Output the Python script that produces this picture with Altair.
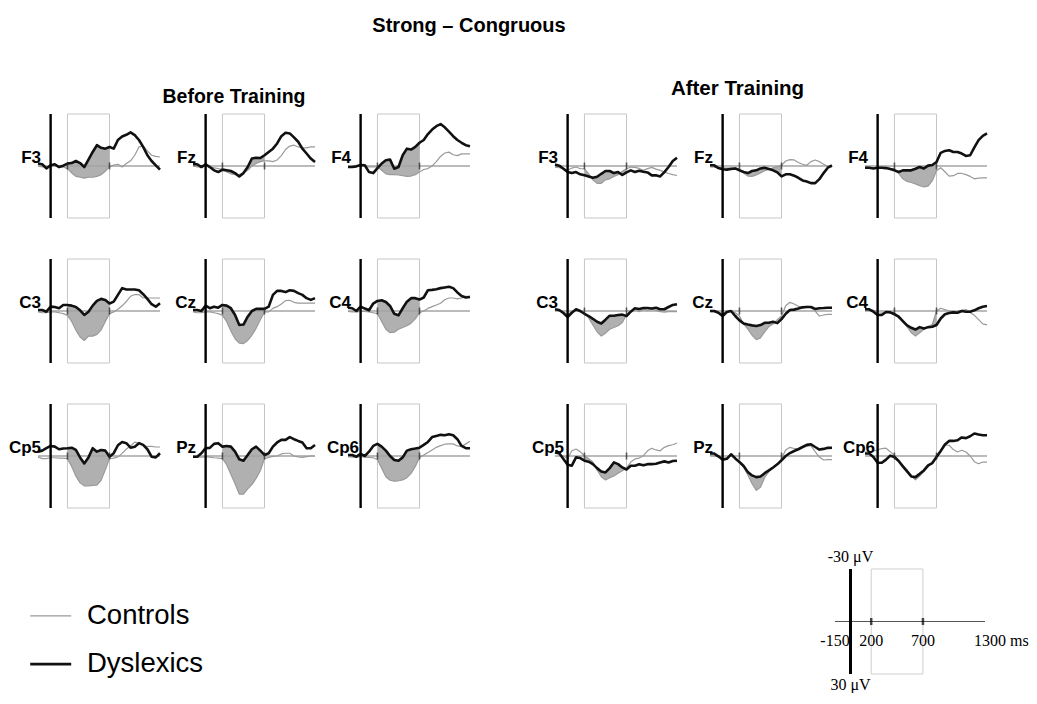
import altair as alt
import pandas as pd

# ---------------- data ----------------
T = list(range(-150, 1301, 50))          # ms
WINDOW = [200, 700]                       # analysis window, ms
XLIM = [-150, 1300]
YLIM = [-30, 30]                          # µV, negative up
GROUPS = ["Controls", "Dyslexics"]
ROWS = [["F3", "Fz", "F4"], ["C3", "Cz", "C4"], ["Cp5", "Pz", "Cp6"]]

# Before training
B_F3_C = [0, 0.5, 0.5, 0, 0, 0.5, 0.5, 1.5, 4, 6, 6.5, 7, 6.5, 6.5, 6, 5, 3, 0.5, -0.5, -1, 0.6, -1.4, -3, -6.2, -11, -11.4, -8.7, -6.2, -5.6, -5.2]
B_F3_D = [-1.5, -1, 1.4, -0.4, -1, 0.6, -0.2, -1.4, -1.7, -2.9, -1.7, 0.6, -3.7, -8.1, -12, -10.5, -10, -11, -10, -15, -17, -18, -19.4, -17.8, -15, -11, -6.2, -2.9, -0.4, 2.1]
B_FZ_C = [0, 0.5, 0.5, 0, 0.5, 1, 1.5, 2, 3.5, 4.5, 5, 5, 4, 2.5, 0, -1.5, -2.5, -3, -3, -2.5, -3.5, -6, -9.5, -11.5, -12, -11, -10.5, -10.5, -11, -11]
B_FZ_D = [-1, -1, 0.6, -1, 0.6, 2.5, 3.5, 2.1, 2.5, 2.9, 4.1, 6, 4.1, 0.6, -4.3, -4.8, -4.6, -6.2, -8.1, -10, -13, -17.2, -19.2, -18.8, -16.5, -14, -10, -7.2, -4.3, -2.3]
B_F4_C = [0.5, 0.5, 0.2, -0.3, 0, 0.5, 0.5, 0.5, 2.5, 4.5, 5, 5, 5.2, 5.6, 6, 5.8, 5, 3.5, 2, 1.5, 0, -2.5, -5.5, -7.5, -8, -6.5, -6, -7, -7, -7]
B_F4_D = [0.6, 0.6, 0.2, -0.6, -0.4, 3.5, 4.1, 1.2, -1.4, -3.3, -3.7, 1.6, 0.6, -6.2, -10, -9.5, -11, -13.4, -15, -18.4, -21, -23, -24.2, -22.3, -19.8, -17.2, -15, -13.4, -12, -11.4]
B_C3_C = [0.5, 1, 1, 0.5, 0.5, 1, 1.5, 2.5, 6, 11, 15, 17, 14.5, 14.5, 13.5, 11, 6, 1.5, 0.5, -1, -3, -5.5, -8.5, -9.5, -9.5, -7.5, -7.5, -7.5, -7.5, -7.5]
B_C3_D = [-0.6, -0.6, 0.4, -2.5, -2.3, -1.6, -3.5, -3.5, -3.1, -2.3, -0.4, 2.3, 0.4, -3.1, -5.8, -7, -6.4, -4.3, -5.4, -9.3, -13.2, -12.4, -12.4, -12.4, -12, -9.7, -7, -3.9, -2.5, -4.5]
B_CZ_C = [0.5, 1, 1, 0.5, 0.5, 1, 1.5, 2.5, 6, 11.5, 16, 18.5, 18.8, 17, 14, 10, 5, 0.5, 0.5, -1.5, -2.5, -4, -6, -6.2, -5, -4.5, -4.5, -4.5, -4.5, -4.5]
B_CZ_D = [-0.6, -0.6, 0, -3.1, -1.6, -2.5, -1.9, -3.5, -3.1, -1.6, 2.3, 8.1, 7.8, 3.3, 0, -1.2, -1.2, -1.2, -2.5, -9.3, -11.6, -11.6, -10.9, -12, -11.6, -10.3, -9.3, -7.4, -6.4, -7.4]
B_C4_C = [0.3, 0.5, 0.5, 0.3, 0.3, 0.5, 1, 1.5, 6, 10.5, 12.5, 12.2, 10.5, 9.5, 8.5, 7, 4.5, 1, 0, -1.5, -2.5, -3.5, -4.5, -6.5, -7.5, -7.5, -7, -7.5, -8.5, -8.5]
B_C4_D = [-1.9, -1.6, 0, -2.5, -1.4, -0.4, -4.3, -5.8, -6.2, -5.2, -2.9, 1.6, 2.5, -1.6, -5.4, -7.4, -7.4, -6.6, -7.8, -12, -12.2, -12.6, -13.2, -13.6, -14, -13.2, -10.7, -8.7, -7.8, -8.1]
B_CP5_C = [0.5, 1.5, 1.5, 1, 1, 1.2, 1.2, 1.5, 6, 11.5, 15.5, 17.2, 17.2, 17, 16.8, 14, 8, 1.5, 1.2, 0.5, -1.5, -4, -5.8, -8, -7.4, -6, -5.5, -5.5, -5.2, -5.2]
B_CP5_D = [-2.5, -3.1, -4.5, -5.8, -5.4, -3.9, -4.3, -4.5, -4.8, -3.5, 0.8, 4.3, 0.8, -4.5, -2.5, -3.5, -3.1, 0.4, -1.6, -6.2, -8.1, -7.4, -4.8, -5.4, -7.4, -6.4, -3.9, 0.4, 0.8, -1.6]
B_PZ_C = [0.4, 0.6, 0.6, 0.4, 0.6, 1, 1.2, 1.5, 5, 10.5, 16, 22, 22, 19, 16.5, 13, 8.5, 1.5, 0.8, 0.2, 0, -1.2, -1.6, -1.6, 0, 0.5, 0.8, 0.4, 0, 0]
B_PZ_D = [0.4, 0.4, -1.6, -4.5, -4.7, -7, -7.4, -5.4, -5.8, -5.4, -2.5, 1.9, 2.7, -0.6, -3.9, -5.4, -3.1, -0.6, -1.6, -5.4, -7.8, -9.3, -9.3, -10.9, -9.7, -8.7, -7.8, -4.5, -4.5, -6.4]
B_CP6_C = [0.4, 0.6, 0.6, 0.4, 0.6, 0.8, 1, 2, 7, 12, 14, 14.5, 14.3, 13.8, 12.5, 10, 6, 0.8, -0.5, -2, -3.5, -5, -6, -6.8, -7, -7, -5.8, -5.5, -7, -8.5]
B_CP6_D = [-0.6, -0.6, 0.4, -1.2, 0, -2.5, -5.8, -7, -5.4, -3.1, 0, 2.3, 2.7, 0.8, -3.1, -3.9, -4.3, -4.8, -6.4, -8.1, -10.9, -11.6, -12.2, -12, -12.6, -12, -9.7, -5.8, -4.5, -4.5]

# After training
A_F3_C = [0.6, 1, 1.4, 2.5, 1.2, 0.6, 1.6, 1.6, 4.5, 8, 10, 10, 8, 7.4, 6, 5, 3, 1.6, 0.6, 0.8, 1.4, 2.5, 1.5, 0.8, 1.8, 2.5, 3.5, 4.3, 5, 5.5]
A_F3_D = [-0.8, -0.2, 1.6, 3.5, 4.1, 3.5, 4.8, 5.4, 6, 6.8, 6.2, 4.5, 2.9, 2.9, 4.1, 3.5, 5.2, 3.7, 2.5, 3.5, 2.7, 3.3, 3.7, 5.4, 5.4, 6, 3.5, 0.6, -2.9, -4.8]
A_FZ_C = [0.5, 0.6, 1, 1, 1.2, 1, 1, 1.6, 4, 5.8, 6, 5.2, 4, 2.7, 2, 1, 0.4, -0.4, -2.9, -3.7, -3.5, -2, -1, -0.4, -2.5, -3.5, -2.5, -1, 0.2, 0.6]
A_FZ_D = [-0.4, -0.4, 1.2, 1.9, 2.1, 1.7, 1.4, 2.5, 3.5, 4.1, 2.9, 2.5, 1.4, 1, 1.7, 2.5, 3.7, 6, 4.8, 4.8, 5.6, 6.8, 8.3, 8.9, 9.9, 9.9, 7.6, 4.1, 1, -0.4]
A_F4_C = [0.6, 1, 1.4, 1.2, 1, 1, 1.4, 1.6, 4.3, 7.4, 8.9, 9.5, 10.3, 11.4, 12, 11.6, 8.5, 2.7, 1, 3.3, 5.8, 5.6, 4.3, 4.3, 5, 6, 7.4, 7, 6.8, 6.8]
A_F4_D = [1, 1, 1.4, 1, 1, 1.2, 1.7, 2.5, 3.5, 2.5, 2.5, 2.5, 1.6, 0.6, 1.4, -0.2, -0.6, -2.3, -7.6, -8.7, -9.1, -8.1, -8.1, -7.2, -5.8, -6.2, -10.7, -14.9, -17.4, -18.8]
A_C3_C = [-0.5, 0, 0.4, 2, 0.5, 0, 0.5, 1, 4, 8, 12, 14.5, 12.8, 10.5, 9.5, 8.5, 6.6, 2.3, 0.4, -1, 0.4, -1, -0.4, -1, -0.4, 0.4, 0.6, 0.4, 0.4, 0.4]
A_C3_D = [-1, -0.6, 1.2, 3.5, 1, -1, 0, 1.6, 2.9, 4.5, 6.2, 7.2, 5, 2.7, 2.7, 2.3, 2.1, 2.9, 0.4, -1.6, -1.2, -1.7, -1.7, -1.4, -1.9, -1, -1, -2.3, -3.5, -3.9]
A_CZ_C = [0.4, 0.4, 0.8, 1.5, 0.4, 0, 1, 2.9, 7.5, 10.5, 14, 16.5, 15.5, 12, 9, 7.5, 5, 2.9, -3, -5, -4, -2.7, -2, -2.7, -2, 0, 2.9, 2.3, 2, 2]
A_CZ_D = [0, 0, 1, 2.9, 0.6, 0, 2.9, 5.4, 7.2, 7.8, 8.3, 8.7, 8.1, 6.8, 6.8, 6.2, 7, 4.7, 1.6, -0.6, -0.8, -1.4, -2.1, -2.3, -2.3, -1.2, -1.6, -1.7, -1.9, -1.9]
A_C4_C = [-0.6, -0.8, -0.4, 1, 1.2, 0.4, 0.6, 1, 3, 6.2, 9, 12.5, 14.5, 12.5, 10.5, 9.5, 7.7, 0, -1.6, -0.8, 0, 0.4, 0.2, -0.4, -0.8, 0.8, 2.5, 5, 7.4, 8]
A_C4_D = [-1, -1, 0.4, 2.3, 2.3, 0.6, 0.8, 1.9, 3.3, 5.8, 8.3, 9.7, 10.7, 9.3, 10.1, 9.3, 9.1, 8.1, 4.3, 1.9, 1.2, 0.8, 1, 0, 0.4, 0.4, -0.4, -1.6, -2.5, -2.9]
A_CP5_C = [-2.1, -1, 0, 1.5, -3, -4, -2.5, 0, 1.5, 3.5, 8, 12, 13.8, 12.5, 11.5, 10, 8.5, 7, 3.5, 1.7, 1.2, -0.2, -3, -4.5, -3.5, -3, -5, -6, -6.5, -7.5]
A_CP5_D = [-2.1, -1.6, 1.7, 5, 5.6, 0.8, 1.2, 2.7, 3.3, 4.7, 7, 8.9, 9.5, 7, 3.7, 4.7, 6.6, 7.8, 5.6, 5.6, 4.8, 5.4, 4.7, 4.7, 4.5, 3.7, 3.1, 3.7, 2.9, 2.7]
A_PZ_C = [-0.4, 0, 0.6, 1.6, 1, -0.5, 1, 3.5, 6.5, 11, 16, 19.8, 18, 12.4, 9, 6.8, 4.5, 1.5, -3.5, -5, -4.3, -4.3, -5, -5.5, -6, -2.5, 0.6, 2.3, 2.1, 2.1]
A_PZ_D = [-1.4, -1.4, 0.2, 2.1, 1.6, -1, 1.4, 3.5, 5.8, 9.3, 11.2, 12.2, 11.8, 9.9, 8.3, 6.6, 4.8, 2.5, 0, -1.7, -2.9, -3.9, -5.2, -6.4, -6.8, -5.2, -3.7, -4.1, -4.7, -4.8]
A_CP6_C = [-2.3, -2.3, -2.9, -3.5, -4.3, -4.5, -2.5, -0.4, 2.9, 5.4, 8, 11.5, 13.8, 11.6, 8.9, 6.2, 3.7, 0.6, -3.3, -6.2, -6.2, -3.7, -2.3, -3.3, -2.3, 0, 3.3, 4.5, 3.5, 3.5]
A_CP6_D = [-1.4, -1.4, 0.6, 3.9, 3.9, 2.1, -0.2, 0.6, 2.9, 6, 8.9, 11.8, 12.2, 10.3, 8.3, 5.4, 4.1, 0.6, -2.9, -6.6, -8.7, -8.7, -9.1, -10.7, -10.3, -11.4, -13, -12.4, -12, -12]

BEFORE = {"F3": (B_F3_C, B_F3_D), "Fz": (B_FZ_C, B_FZ_D), "F4": (B_F4_C, B_F4_D),
          "C3": (B_C3_C, B_C3_D), "Cz": (B_CZ_C, B_CZ_D), "C4": (B_C4_C, B_C4_D),
          "Cp5": (B_CP5_C, B_CP5_D), "Pz": (B_PZ_C, B_PZ_D), "Cp6": (B_CP6_C, B_CP6_D)}
AFTER = {"F3": (A_F3_C, A_F3_D), "Fz": (A_FZ_C, A_FZ_D), "F4": (A_F4_C, A_F4_D),
         "C3": (A_C3_C, A_C3_D), "Cz": (A_CZ_C, A_CZ_D), "C4": (A_C4_C, A_C4_D),
         "Cp5": (A_CP5_C, A_CP5_D), "Pz": (A_PZ_C, A_PZ_D), "Cp6": (A_CP6_C, A_CP6_D)}

# scale diagram texts
DIAG_TICKS = [-150, 200, 700]
DIAG_TICK_TEXT = ["-150", "200", "700"]
DIAG_END_TEXT = "1300 ms"
DIAG_TOP_TEXT = "-30 \u03bcV"
DIAG_BOTTOM_TEXT = "30 \u03bcV"

# ---------------- styling ----------------
SANS = "Liberation Sans, Arial, Helvetica, sans-serif"
SERIF = "Liberation Serif, Times New Roman, serif"
PW, PH = 122, 104
LABEL_DX = {("Before", "Cp6"): 11, ("After", "Cp5"): 9, ("After", "Cp6"): 10}

XS = alt.Scale(domain=XLIM, nice=False, zero=False)
YS = alt.Scale(domain=YLIM, nice=False, zero=False, reverse=True)

LEG = alt.Legend(title=None, orient="none", legendX=-9.3, legendY=480.3, symbolType="stroke",
                 symbolSize=1681, labelFontSize=27.5, labelFont=SANS, labelColor="black",
                 labelOffset=14.3, rowPadding=12.8, padding=0)
COLOR_SCALE = alt.Scale(domain=GROUPS, range=["#9a9a9a", "#111111"])
WIDTH_SCALE = alt.Scale(domain=GROUPS, range=[1.2, 2.6])


def xq(f):
    return alt.X(f, scale=XS, axis=None)


def yq(f):
    return alt.Y(f, scale=YS, axis=None)


def panel(phase, name, ctrl, dys, title=None):
    df = pd.DataFrame({"t": T, "Controls": ctrl, "Dyslexics": dys})
    base = alt.Chart(df)
    win = alt.Chart(pd.DataFrame({"s": [WINDOW[0]], "e": [WINDOW[1]], "lo": [YLIM[0]], "hi": [YLIM[1]]}))
    rect = win.mark_rect(fillOpacity=0, stroke="#c6c6c6", strokeWidth=1).encode(
        x=xq("s:Q"), x2="e:Q", y=yq("lo:Q"), y2="hi:Q")
    area = base.transform_filter(
        f"datum.t >= {WINDOW[0]} && datum.t <= {WINDOW[1]}"
    ).mark_area(color="#b0b0b0", opacity=1).encode(
        x=xq("t:Q"), y=yq("Controls:Q"), y2="Dyslexics:Q")
    zero = alt.Chart(pd.DataFrame({"a": [XLIM[0]], "b": [XLIM[1]], "v": [0]})).mark_rule(
        color="#a4a4a4", strokeWidth=1.3).encode(x=xq("a:Q"), x2="b:Q", y=yq("v:Q"))
    lines = base.transform_fold(GROUPS, as_=["group", "uv"]).mark_line(strokeJoin="round").encode(
        x=xq("t:Q"), y=yq("uv:Q"),
        color=alt.Color("group:N", scale=COLOR_SCALE, legend=LEG),
        strokeWidth=alt.StrokeWidth("group:N", scale=WIDTH_SCALE, legend=LEG))
    onset = alt.Chart(pd.DataFrame({"t": [0], "lo": [YLIM[0]], "hi": [YLIM[1]]})).mark_rule(
        color="black", strokeWidth=2.4).encode(x=xq("t:Q"), y=yq("lo:Q"), y2="hi:Q")
    ticks = alt.Chart(pd.DataFrame({"t": WINDOW, "v": [0, 0]})).mark_tick(
        orient="vertical", size=7, thickness=1.6, color="#222222").encode(x=xq("t:Q"), y=yq("v:Q"))
    lab = alt.Chart(pd.DataFrame({"t": [XLIM[0]], "v": [0], "name": [name]})).mark_text(
        align="right", baseline="alphabetic", dx=LABEL_DX.get((phase, name), 3), dy=-3.5,
        font=SANS, fontSize=17, fontWeight="bold", color="black").encode(
        x=xq("t:Q"), y=yq("v:Q"), text="name:N")
    ch = alt.layer(rect, area, zero, lines, onset, ticks, lab).properties(width=PW, height=PH)
    if title is not None:
        ch = ch.properties(title=title)
    return ch


def gap_cell(w, h):
    return alt.Chart(pd.DataFrame({"v": [0]})).mark_point(opacity=0).encode(
        x=alt.X("v:Q", axis=None), y=alt.Y("v:Q", axis=None)).properties(width=w, height=h)


before_title = alt.TitleParams("Before Training", font=SANS, fontSize=19.5, fontWeight="bold",
                               color="black", anchor="middle", dx=-20, dy=9.5,
                               baseline="alphabetic", offset=0)
after_title = alt.TitleParams("After Training", font=SANS, fontSize=20.5, fontWeight="bold",
                              color="black", anchor="middle", dx=-33.5, dy=3,
                              baseline="alphabetic", offset=0)

cells = []
for r, names in enumerate(ROWS):
    for c, n in enumerate(names):
        cells.append(panel("Before", n, *BEFORE[n], title=before_title if (r == 0 and c == 1) else None))
    cells.append(gap_cell(18.5, PH))
    for c, n in enumerate(names):
        cells.append(panel("After", n, *AFTER[n], title=after_title if (r == 0 and c == 1) else None))

grid = alt.concat(*cells, columns=7, spacing={"row": 41, "column": 33}, bounds="flush")

# ---- scale diagram ----
DXS = alt.Scale(domain=XLIM, nice=False, zero=False)
DYS = alt.Scale(domain=YLIM, nice=False, zero=False, reverse=True)


def dx(f):
    return alt.X(f, scale=DXS, axis=None)


def dy(f):
    return alt.Y(f, scale=DYS, axis=None)


d_rect = alt.Chart(pd.DataFrame({"s": [WINDOW[0]], "e": [WINDOW[1]], "lo": [YLIM[0]], "hi": [YLIM[1]]})).mark_rect(
    fillOpacity=0, stroke="#cfcfcf", strokeWidth=1).encode(x=dx("s:Q"), x2="e:Q", y=dy("lo:Q"), y2="hi:Q")
d_zero = alt.Chart(pd.DataFrame({"a": [XLIM[0]], "b": [XLIM[1]], "v": [0]})).mark_rule(
    color="#555555", strokeWidth=1).encode(x=dx("a:Q"), x2="b:Q", y=dy("v:Q"))
d_onset = alt.Chart(pd.DataFrame({"t": [0], "lo": [YLIM[0]], "hi": [YLIM[1]]})).mark_rule(
    color="black", strokeWidth=3).encode(x=dx("t:Q"), y=dy("lo:Q"), y2="hi:Q")
d_ticks = alt.Chart(pd.DataFrame({"t": WINDOW, "v": [0, 0]})).mark_tick(
    orient="vertical", size=7, thickness=2.5, color="black").encode(x=dx("t:Q"), y=dy("v:Q"))
d_tlab = alt.Chart(pd.DataFrame({"t": DIAG_TICKS, "v": [0] * 3, "s": DIAG_TICK_TEXT})).mark_text(
    align="center", baseline="middle", dy=19, font=SERIF, fontSize=16, color="black").encode(
    x=dx("t:Q"), y=dy("v:Q"), text="s:N")
d_end = alt.Chart(pd.DataFrame({"t": [XLIM[1]], "v": [0], "s": [DIAG_END_TEXT]})).mark_text(
    align="left", baseline="middle", dx=-11, dy=19, font=SERIF, fontSize=16, color="black").encode(
    x=dx("t:Q"), y=dy("v:Q"), text="s:N")
d_top = alt.Chart(pd.DataFrame({"t": [0], "v": [YLIM[0]], "s": [DIAG_TOP_TEXT]})).mark_text(
    align="center", baseline="middle", dy=-12, font=SERIF, fontSize=16, color="black").encode(
    x=dx("t:Q"), y=dy("v:Q"), text="s:N")
d_bot = alt.Chart(pd.DataFrame({"t": [0], "v": [YLIM[1]], "s": [DIAG_BOTTOM_TEXT]})).mark_text(
    align="center", baseline="middle", dy=11, font=SERIF, fontSize=16, color="black").encode(
    x=dx("t:Q"), y=dy("v:Q"), text="s:N")
diagram = alt.layer(d_rect, d_zero, d_onset, d_ticks, d_tlab, d_end, d_top, d_bot).properties(width=150, height=105)

bottom = alt.hconcat(gap_cell(797, 20), diagram, spacing=0, bounds="flush")

chart = alt.vconcat(grid, bottom, spacing=455, bounds="flush").properties(
    title=alt.TitleParams("Strong \u2013 Congruous", font=SANS, fontSize=20, fontWeight="bold",
                          color="black", anchor="start", align="center", frame="group",
                          dx=431, baseline="alphabetic", offset=27),
    padding={"left": 0, "top": 8, "right": 0, "bottom": 0},
).configure_view(stroke=None)

chart.save("out.html", embed_options={"renderer": "svg", "actions": False})
